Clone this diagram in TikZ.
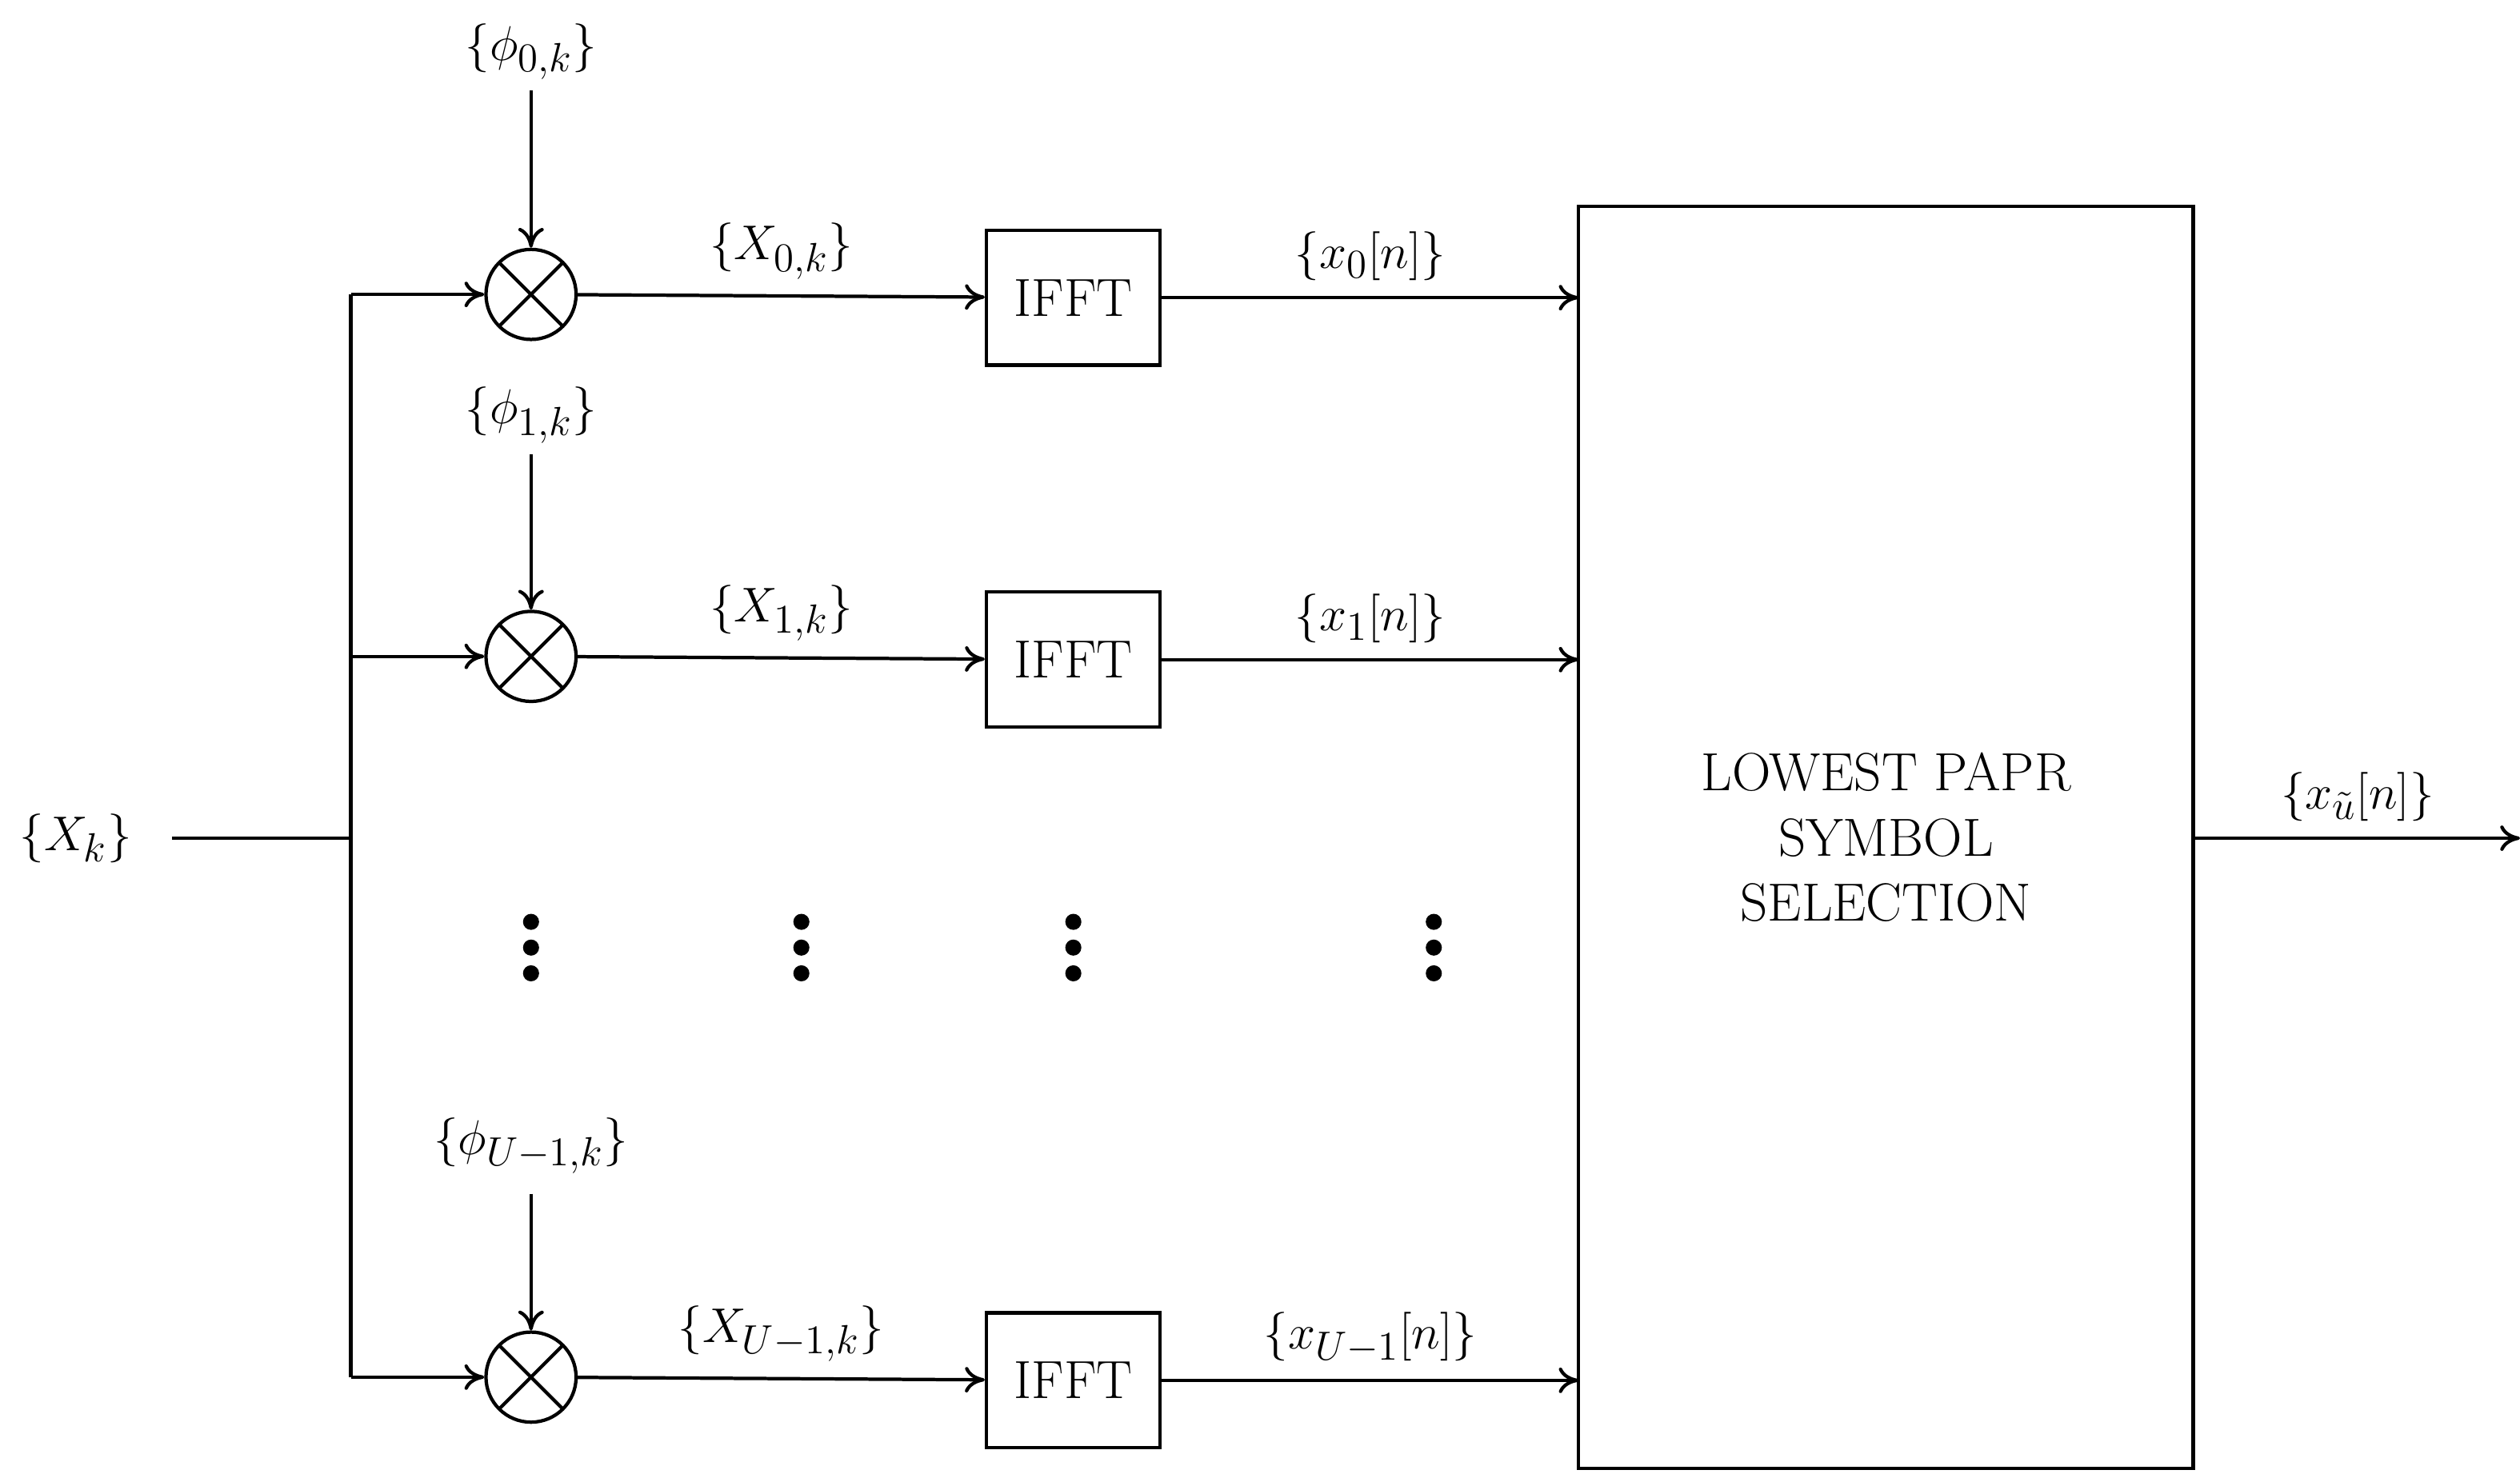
\documentclass[tikz,border=0pt]{standalone}
\usetikzlibrary{arrows.meta}
\begin{document}
\begin{tikzpicture}[x=0.02cm,y=-0.02cm,line width=1.2pt,
  ar/.style={-{To[length=7pt,width=9pt]}},
  lab/.style={font=\fontsize{19}{23}\selectfont},
  mul/.style={circle,draw,minimum size=1.12cm,inner sep=0pt,path picture={
    \draw (path picture bounding box.north west)--(path picture bounding box.south east)
          (path picture bounding box.north east)--(path picture bounding box.south west);}},
  box/.style={draw,minimum width=2.16cm,minimum height=1.68cm,inner sep=0pt,font=\fontsize{19}{23}\selectfont},
  dot/.style={circle,fill,inner sep=0pt,minimum size=0.2cm}]
\useasboundingbox (0,0) rectangle (1566,921);
\node[lab] (xk) at (47,521) {$\{X_k\}$};
\coordinate (in) at (107,521);
\coordinate (bj) at (218,521);
\coordinate (bt) at (218,183);
\coordinate (bm) at (218,408);
\coordinate (bb) at (218,856);
\draw (in) -- (bj);
\draw (bt) -- (bb);
\node[draw,minimum width=7.64cm,minimum height=15.7cm,inner sep=0pt,align=center,font=\fontsize{19}{23}\selectfont] (sel) at (1172,520.5) {LOWEST PAPR\\SYMBOL\\SELECTION};
% branch 0
\node[mul] (m0) at (330,183) {};
\node[lab] (p0) at (330,32) {$\{\phi_{0,k}\}$};
\node[box] (f0) at (667,185) {IFFT};
\coordinate (e0) at (981,185);
\draw[ar] (bt) -- (m0);
\draw[ar] (p0) -- (m0);
\draw[ar] (m0) -- (f0) node[lab,midway,above=2pt] {$\{X_{0,k}\}$};
\draw[ar] (f0) -- (e0) node[lab,midway,above=2pt] {$\{x_0[n]\}$};
% branch 1
\node[mul] (m1) at (330,408) {};
\node[lab] (p1) at (330,258) {$\{\phi_{1,k}\}$};
\node[box] (f1) at (667,410) {IFFT};
\coordinate (e1) at (981,410);
\draw[ar] (bm) -- (m1);
\draw[ar] (p1) -- (m1);
\draw[ar] (m1) -- (f1) node[lab,midway,above=2pt] {$\{X_{1,k}\}$};
\draw[ar] (f1) -- (e1) node[lab,midway,above=2pt] {$\{x_1[n]\}$};
% branch U-1
\node[mul] (m2) at (330,856) {};
\node[lab] (p2) at (330,712) {$\{\phi_{U-1,k}\}$};
\node[box] (f2) at (667,858) {IFFT};
\coordinate (e2) at (981,858);
\draw[ar] (bb) -- (m2);
\draw[ar] (330,742) -- (m2);
\draw[ar] (m2) -- (f2) node[lab,midway,above=2pt] {$\{X_{U-1,k}\}$};
\draw[ar] (f2) -- (e2) node[lab,midway,above=2pt] {$\{x_{U-1}[n]\}$};
% output
\coordinate (out) at (1566,521);
\draw[ar] (sel.east |- out) -- (out) node[lab,midway,above=2pt] {$\{x_{\tilde u}[n]\}$};
% dots
\foreach \x in {330,498,667,891}
  \foreach \y in {573,589,605}
    \node[dot] at (\x,\y) {};
\end{tikzpicture}
\end{document}
